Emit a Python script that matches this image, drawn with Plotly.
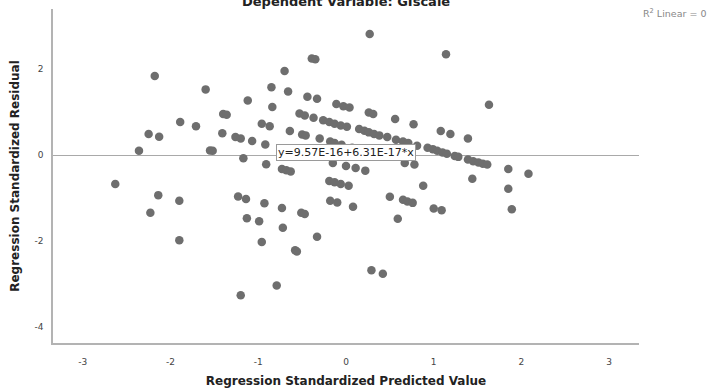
import plotly.graph_objects as go

# Regression Standardized Predicted Value (x) and Standardized Residual (y)
pred = [
    -2.18, -1.60, -1.89, -1.71, -2.25, -2.13, -2.36, -1.55, -1.52, -1.40,
    -1.36, -1.12, -1.41, -1.26, -1.20, -1.07, -1.17, -0.92, -0.91, -0.96,
    -0.87, -0.85, -0.84, -0.70, -0.66, -0.64, -0.73, -0.68, -0.63, -0.39,
    -0.35, -0.44, -0.33, -0.11, -0.03, 0.04, 0.27, 1.14, 1.63, 0.26,
    0.31, 0.56, 0.77, 1.08, 1.19, 1.39,
    # upper diagonal band
    -0.53, -0.47, -0.37, -0.26, -0.19, -0.13, -0.06, 0.01, 0.15, 0.21,
    0.26, 0.32, 0.38, 0.47, 0.57, 0.65, 0.71, 0.81, 0.93, 0.99,
    1.04, 1.10, 1.15, 1.24, 1.28, 1.39, 1.45, 1.51, 1.56, 1.61,
    # lower diagonal band
    -0.50, -0.46, -0.30, -0.18, -0.13, -0.05, 0.07, 0.11,
    # just below zero
    -0.15, 0.00, 0.11, 0.22, 0.67, 0.78, 1.85, 2.08, 1.44,
    # negative region
    -2.63, -2.14, -1.90, -2.23, -1.90, -1.23, -1.14, -0.93, -0.73, -1.13,
    -0.99, -0.51, -0.47, -0.72, -0.96, -0.33, -0.58, -0.56, -0.79, -1.20,
    -0.19, -0.13, -0.06, 0.03, -0.18, -0.10, 1.85, 1.89, 0.88, 0.50,
    0.65, 0.70, 0.76, 1.00, 1.09, 0.08, 0.59, 0.29, 0.42,
]
resid = [
    1.84, 1.53, 0.77, 0.67, 0.49, 0.43, 0.10, 0.11, 0.10, 0.96,
    0.94, 1.27, 0.51, 0.42, 0.39, 0.33, -0.07, 0.25, -0.21, 0.73,
    0.67, 1.58, 1.12, 1.96, 1.48, 0.56, -0.32, -0.35, -0.38, 2.25,
    2.23, 1.36, 1.31, 1.19, 1.14, 1.11, 2.82, 2.35, 1.17, 0.99,
    0.96, 0.84, 0.72, 0.56, 0.49, 0.39,
    0.97, 0.92, 0.87, 0.81, 0.77, 0.73, 0.69, 0.66, 0.61, 0.57,
    0.53, 0.49, 0.46, 0.42, 0.36, 0.32, 0.28, 0.22, 0.17, 0.14,
    0.10, 0.06, 0.03, -0.02, -0.04, -0.10, -0.14, -0.17, -0.20, -0.22,
    0.48, 0.46, 0.39, 0.32, 0.28, 0.24, 0.17, 0.13,
    -0.18, -0.25, -0.30, -0.36, -0.18, -0.22, -0.32, -0.43, -0.55,
    -0.67, -0.93, -1.06, -1.34, -1.98, -0.96, -1.02, -1.12, -1.23, -1.47,
    -1.54, -1.34, -1.37, -1.69, -2.02, -1.90, -2.21, -2.24, -3.03, -3.26,
    -0.60, -0.63, -0.67, -0.71, -1.06, -1.10, -0.78, -1.26, -0.71, -0.97,
    -1.04, -1.08, -1.11, -1.24, -1.28, -1.20, -1.48, -2.68, -2.76,
]

x_ticks = [-3, -2, -1, 0, 1, 2, 3]
x_tick_labels = ["-3", "-2", "-1", "0", "1", "2", "3"]
y_ticks = [-4, -2, 0, 2]
y_tick_labels = ["-4", "-2", "0", "2"]

title_text = "Dependent Variable: GIscale"
x_title = "Regression Standardized Predicted Value"
y_title = "Regression Standardized Residual"
fit_label = "y=9.57E-16+6.31E-17*x"
r2_label = "R<sup>2</sup> Linear = 0"

FONT = "DejaVu Sans"
AXIS_COLOR = "#b3b3b3"

fig = go.Figure()
fig.add_trace(go.Scatter(
    x=pred, y=resid, mode="markers",
    marker=dict(size=8.5, color="#6e6e6e", line=dict(width=0)),
    showlegend=False, hoverinfo="skip",
))

fig.update_layout(
    width=710, height=388,
    margin=dict(l=53, r=71, t=9, b=45),
    paper_bgcolor="white", plot_bgcolor="white",
    font=dict(family=FONT, color="#333333"),
    showlegend=False,
    xaxis=dict(
        range=[-3.34, 3.34], tickvals=x_ticks, ticktext=x_tick_labels,
        showgrid=False, zeroline=False, showline=True, linecolor=AXIS_COLOR,
        linewidth=1.5, ticks="", tickfont=dict(size=9, color="#444444"),
        ticklabelstandoff=9,
        title=dict(text="<b>" + x_title + "</b>", font=dict(size=12, color="#222222"), standoff=11),
        automargin=False,
    ),
    yaxis=dict(
        range=[-4.37, 3.40], tickvals=y_ticks, ticktext=y_tick_labels,
        showgrid=False, zeroline=True, zerolinecolor="#a9a9a9", zerolinewidth=1.2,
        showline=True, linecolor=AXIS_COLOR, linewidth=1.5, ticks="",
        tickfont=dict(size=9, color="#444444"), ticklabelstandoff=6,
        title=dict(text="<b>" + y_title + "</b>", font=dict(size=12, color="#222222"), standoff=12),
        automargin=False,
    ),
    annotations=[
        dict(text="<b>" + title_text + "</b>", xref="paper", yref="paper",
             x=0.5, y=1, xanchor="center", yanchor="bottom", yshift=-2,
             showarrow=False, font=dict(size=13, color="#222222")),
        dict(text=r2_label, xref="paper", yref="paper",
             x=1.118, y=0.988, xanchor="right", yanchor="middle",
             showarrow=False, font=dict(size=9.5, color="#888888")),
        dict(text=fit_label, xref="x", yref="y", x=0.0, y=0.06,
             xanchor="center", yanchor="middle", showarrow=False,
             bgcolor="white", bordercolor="#9a9a9a", borderwidth=1, borderpad=1,
             font=dict(size=11, color="#222222")),
    ],
)

fig.write_html("out.html")
